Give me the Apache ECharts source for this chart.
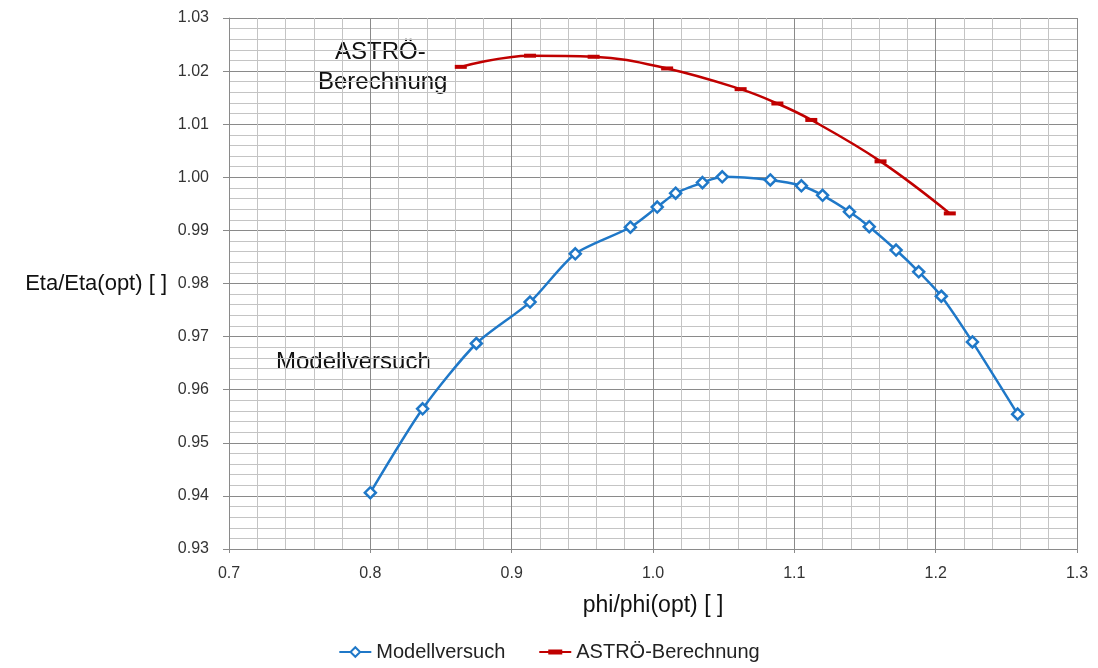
<!DOCTYPE html>
<html>
<head>
<meta charset="utf-8">
<script src="https://cdn.jsdelivr.net/npm/echarts@6/dist/echarts.min.js"></script>
<style>
    html, body { margin: 0; padding: 0; background: #fff; }
    #chart { width: 1098px; height: 668px; }
</style>
</head>
<body>
<div id="chart"></div>
<script>
(function () {
    'use strict';

    // Modellversuch (Messpunkte)
    var phiModell = [0.800, 0.837, 0.875, 0.913, 0.945, 0.984, 1.003, 1.016, 1.035, 1.049,
                     1.083, 1.105, 1.120, 1.139, 1.153, 1.172, 1.188, 1.204, 1.226, 1.258];
    var etaModell = [0.9406, 0.9564, 0.9687, 0.9765, 0.9856, 0.9906, 0.9944, 0.9970, 0.9990, 1.0001,
                     0.9995, 0.9984, 0.9966, 0.9935, 0.9907, 0.9863, 0.9822, 0.9776, 0.9690, 0.9554];

    // ASTRÖ-Berechnung
    var phiAstro = [0.864, 0.913, 0.958, 1.010, 1.062, 1.088, 1.112, 1.161, 1.210];
    var etaAstro = [1.0208, 1.0229, 1.0227, 1.0205, 1.0166, 1.0139, 1.0108, 1.0030, 0.9932];

    var seriesNames = ['Modellversuch', 'ASTRÖ-Berechnung'];

    var font = '"Liberation Sans", Arial, sans-serif';
    var majorGrid = '#8a8a8a';
    var minorGrid = '#c4c4c4';

    function zip(xs, ys) {
        return xs.map(function (x, i) { return [x, ys[i]]; });
    }

    var myChart = echarts.init(document.getElementById('chart'));

    var option = {
        backgroundColor: '#fff',
        animation: false,
        textStyle: { fontFamily: font },
        grid: { left: 229, right: 21, top: 18, bottom: 119 },
        legend: {
            bottom: 1,
            left: 'center',
            itemWidth: 32,
            itemHeight: 12,
            itemGap: 34,
            textStyle: { fontSize: 20, color: '#222', fontFamily: font },
            data: [
                { name: seriesNames[0] },
                // Strich mit dickerem Mittelstück wie im Original
                { name: seriesNames[1], icon: 'path://M0,5H32V7H0Z M9,3.5H23V8.5H9Z' }
            ]
        },
        xAxis: {
            type: 'value',
            min: 0.7,
            max: 1.3,
            interval: 0.1,
            name: 'phi/phi(opt) [ ]',
            nameLocation: 'middle',
            nameGap: 45,
            nameTextStyle: { fontSize: 23, color: '#111', fontFamily: font },
            axisLine: { lineStyle: { color: majorGrid } },
            axisTick: { show: true, length: 4, lineStyle: { color: majorGrid } },
            axisLabel: {
                fontSize: 16, color: '#333', margin: 17,
                formatter: function (v) { return v.toFixed(1); }
            },
            splitLine: { show: true, lineStyle: { color: majorGrid, width: 1 } },
            minorTick: { show: false, splitNumber: 5 },
            minorSplitLine: { show: true, lineStyle: { color: minorGrid, width: 1 } }
        },
        yAxis: {
            type: 'value',
            min: 0.93,
            max: 1.03,
            interval: 0.01,
            name: 'Eta/Eta(opt) [ ]',
            nameLocation: 'middle',
            nameRotate: 0,
            nameGap: 62,
            nameTextStyle: { fontSize: 22, color: '#111', fontFamily: font, align: 'right' },
            axisLine: { show: true, lineStyle: { color: majorGrid } },
            axisTick: { show: true, length: 6, lineStyle: { color: majorGrid } },
            axisLabel: {
                fontSize: 16, color: '#333', margin: 20,
                formatter: function (v) { return v.toFixed(2); }
            },
            splitLine: { show: true, lineStyle: { color: majorGrid, width: 1 } },
            minorTick: { show: false, splitNumber: 5 },
            minorSplitLine: { show: true, lineStyle: { color: minorGrid, width: 1 } }
        },
        graphic: [
            {
                type: 'text', left: 335, top: 40,
                style: { text: 'ASTRÖ-', fill: '#111', font: '24px ' + font }
            },
            {
                type: 'text', left: 318, top: 70,
                style: { text: 'Berechnung', fill: '#111', font: '24px ' + font }
            },
            {
                type: 'text', left: 276, top: 350,
                style: { text: 'Modellversuch', fill: '#111', font: '24px ' + font }
            }
        ],
        series: [
            {
                name: seriesNames[0],
                type: 'line',
                data: zip(phiModell, etaModell),
                smooth: 0.25,
                symbol: 'diamond',
                symbolSize: 11,
                color: '#1f78c8',
                lineStyle: { color: '#1f78c8', width: 2.5 },
                itemStyle: { color: '#fff', borderColor: '#1f78c8', borderWidth: 2.5 },
                z: 3
            },
            {
                name: seriesNames[1],
                type: 'line',
                data: zip(phiAstro, etaAstro),
                smooth: 0.4,
                symbol: 'rect',
                symbolSize: [12, 4],
                color: '#c00000',
                lineStyle: { color: '#c00000', width: 2.5 },
                itemStyle: { color: '#c00000' },
                z: 2
            }
        ]
    };

    myChart.setOption(option);
})();
</script>
</body>
</html>
